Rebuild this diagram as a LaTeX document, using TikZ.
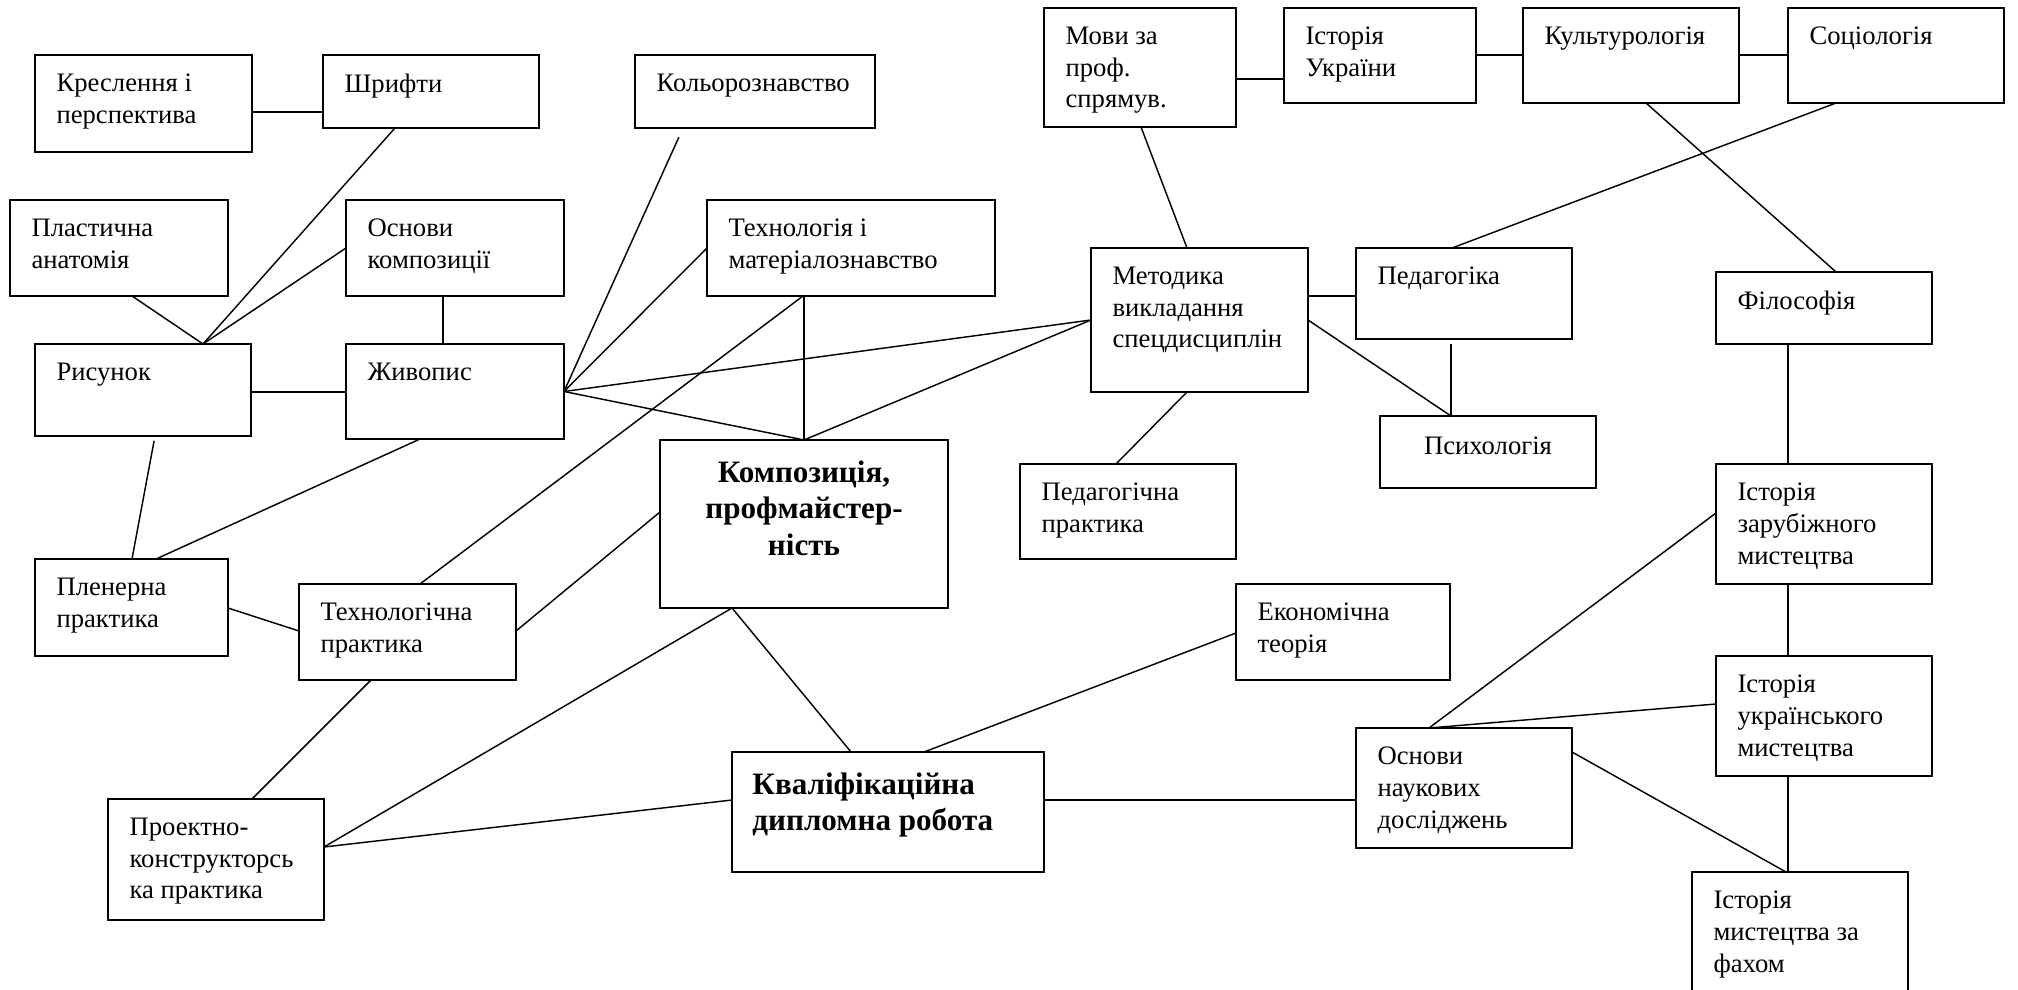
\documentclass[tikz,border=0pt]{standalone}
\usepackage{fontspec}
\setmainfont{Liberation Serif}
\tikzset{
  fach/.style 2 args={draw, line width=0.9pt, anchor=north west, inner sep=0pt,
    outer sep=0pt, minimum width=#1*0.45pt, minimum height=#2*0.45pt},
  txt/.style={anchor=north west, align=left, inner sep=0pt, xshift=9.5pt,
    yshift=-8.5pt, font=\fontsize{12}{14.2}\selectfont},
  txtmitte/.style={anchor=north, align=center, inner sep=0pt, yshift=-9pt,
    font=\fontsize{12}{14.2}\selectfont},
  fett/.style={anchor=north west, align=left, inner sep=0pt, xshift=9pt,
    yshift=-9.3pt, font=\fontsize{14}{16.3}\selectfont\bfseries},
  fettmitte/.style={anchor=north, align=center, inner sep=0pt, yshift=-9pt,
    font=\fontsize{14}{16.6}\selectfont\bfseries},
  linie/.style={line width=0.65pt}
}
\begin{document}
\begin{tikzpicture}[x=0.45pt, y=-0.45pt]
  \useasboundingbox (0,0) rectangle (2018,990);
  % Obere Reihe
  \node[fach={217}{97}, label={[txt]north west:{Креслення і\\перспектива}}] (kresl) at (35,55) {};
  \node[fach={216}{73}, label={[txt]north west:{Шрифти}}] (shryft) at (323,55) {};
  \node[fach={240}{73}, label={[txt]north west:{Кольорознавство}}] (kolir) at (635,55) {};
  \node[fach={192}{119}, label={[txt]north west:{Мови за\\проф.\\спрямув.}}] (movy) at (1044,8) {};
  \node[fach={192}{95}, label={[txt]north west:{Історія\\України}}] (istukr) at (1284,8) {};
  \node[fach={216}{95}, label={[txt]north west:{Культурологія}}] (kult) at (1523,8) {};
  \node[fach={216}{95}, label={[txt]north west:{Соціологія}}] (sotsio) at (1788,8) {};
  % Zweite Reihe
  \node[fach={218}{96}, label={[txt]north west:{Пластична\\анатомія}}] (plast) at (10,200) {};
  \node[fach={218}{96}, label={[txt]north west:{Основи\\композиції}}] (osnkomp) at (346,200) {};
  \node[fach={288}{96}, label={[txt]north west:{Технологія і\\матеріалознавство}}] (tekhmat) at (707,200) {};
  \node[fach={217}{144}, label={[txt]north west:{Методика\\викладання\\спецдисциплін}}] (metod) at (1091,248) {};
  \node[fach={216}{91}, label={[txt]north west:{Педагогіка}}] (pedag) at (1356,248) {};
  \node[fach={216}{72}, label={[txt]north west:{Філософія}}] (filos) at (1716,272) {};
  % Mitte
  \node[fach={216}{92}, label={[txt]north west:{Рисунок}}] (rysun) at (35,344) {};
  \node[fach={218}{95}, label={[txt]north west:{Живопис}}] (zhyv) at (346,344) {};
  \node[fach={216}{72}, label={[txtmitte]north:{Психологія}}] (psykh) at (1380,416) {};
  \node[fach={288}{168}, label={[fettmitte]north:{Композиція,\\профмайстер-\\ність}}] (komp) at (660,440) {};
  \node[fach={216}{95}, label={[txt]north west:{Педагогічна\\практика}}] (pedprak) at (1020,464) {};
  \node[fach={216}{120}, label={[txt]north west:{Історія\\зарубіжного\\мистецтва}}] (istzar) at (1716,464) {};
  % Untere Reihen
  \node[fach={193}{97}, label={[txt]north west:{Пленерна\\практика}}] (plener) at (35,559) {};
  \node[fach={217}{96}, label={[txt]north west:{Технологічна\\практика}}] (tekhprak) at (299,584) {};
  \node[fach={214}{96}, label={[txt]north west:{Економічна\\теорія}}] (ekon) at (1236,584) {};
  \node[fach={216}{120}, label={[txt]north west:{Історія\\українського\\мистецтва}}] (istukrm) at (1716,656) {};
  \node[fach={216}{120}, label={[txt]north west:{Основи\\наукових\\досліджень}}] (osnnauk) at (1356,728) {};
  \node[fach={312}{120}, label={[fett]north west:{Кваліфікаційна\\дипломна робота}}] (kval) at (732,752) {};
  \node[fach={216}{121}, label={[txt]north west:{Проектно-\\конструкторсь\\ка практика}}] (proekt) at (108,799) {};
  \node[fach={216}{140}, label={[txt]north west:{Історія\\мистецтва за\\фахом}}] (istfakh) at (1692,872) {};
  % Verbindungen links
  \draw[linie] (kresl.east |- 0,112) -- (shryft.west |- 0,112);
  \draw[linie] (shryft.south -| 395,0) -- (rysun.north -| 203,0);
  \draw[linie] (plast.south -| 132,0) -- (rysun.north -| 203,0);
  \draw[linie] (osnkomp.west |- 0,248) -- (rysun.north -| 203,0);
  \draw[linie] (osnkomp.south -| 443,0) -- (zhyv.north -| 443,0);
  \draw[linie] (rysun.east |- 0,392) -- (zhyv.west |- 0,392);
  \draw[linie, shorten <=2.2pt] (rysun.south -| 155,0) -- (plener.north -| 132,0);
  \draw[linie] (zhyv.south -| 420,0) -- (plener.north -| 156,0);
  \draw[linie] (plener.east |- 0,608) -- (tekhprak.west |- 0,631);
  \draw[linie] (tekhprak.south -| 371,0) -- (proekt.north -| 252,0);
  % Verbindungen vom Живопис
  \draw[linie, shorten >=4.5pt] (zhyv.east) -- (kolir.south -| 683,0);
  \draw[linie] (zhyv.east) -- (tekhmat.west |- 0,248);
  \draw[linie] (zhyv.east) -- (metod.west |- 0,320);
  \draw[linie] (zhyv.east) -- (komp.north);
  % Verbindungen zur Композиція
  \draw[linie] (tekhmat.south -| komp.north) -- (komp.north);
  \draw[linie] (tekhmat.south -| 803,0) -- (tekhprak.north -| 420,0);
  \draw[linie] (metod.west |- 0,320) -- (komp.north);
  \draw[linie] (tekhprak.east |- 0,631) -- (komp.west |- 0,512);
  \draw[linie] (proekt.east |- 0,847) -- (komp.south -| 732,0);
  \draw[linie] (proekt.east |- 0,847) -- (kval.west |- 0,800);
  \draw[linie] (komp.south -| 732,0) -- (kval.north -| 851,0);
  \draw[linie] (kval.north -| 924,0) -- (ekon.west |- 0,633);
  \draw[linie] (kval.east |- 0,800) -- (osnnauk.west |- 0,800);
  % Verbindungen rechts oben
  \draw[linie] (movy.east |- 0,79) -- (istukr.west |- 0,79);
  \draw[linie] (istukr.east |- 0,55) -- (kult.west |- 0,55);
  \draw[linie] (kult.east |- 0,55) -- (sotsio.west |- 0,55);
  \draw[linie] (movy.south -| 1141,0) -- (metod.north -| 1187,0);
  \draw[linie] (metod.east |- 0,296) -- (pedag.west |- 0,296);
  \draw[linie] (metod.east |- 0,320) -- (psykh.north -| 1451,0);
  \draw[linie, shorten <=2.2pt] (pedag.south -| 1451,0) -- (psykh.north -| 1451,0);
  \draw[linie] (metod.south -| 1187,0) -- (pedprak.north -| 1116,0);
  \draw[linie] (sotsio.south -| 1836,0) -- (pedag.north -| 1452,0);
  \draw[linie] (kult.south -| 1646,0) -- (filos.north -| 1836,0);
  % Geschichte
  \draw[linie] (filos.south -| 1788,0) -- (istzar.north -| 1788,0);
  \draw[linie] (istzar.south -| 1788,0) -- (istukrm.north -| 1788,0);
  \draw[linie] (istukrm.south -| 1788,0) -- (istfakh.north -| 1788,0);
  \draw[linie] (osnnauk.north -| 1429,0) -- (istzar.west |- 0,513);
  \draw[linie] (osnnauk.north -| 1429,0) -- (istukrm.west |- 0,704);
  \draw[linie] (osnnauk.east |- 0,752) -- (istfakh.north -| 1786,0);
\end{tikzpicture}
\end{document}
